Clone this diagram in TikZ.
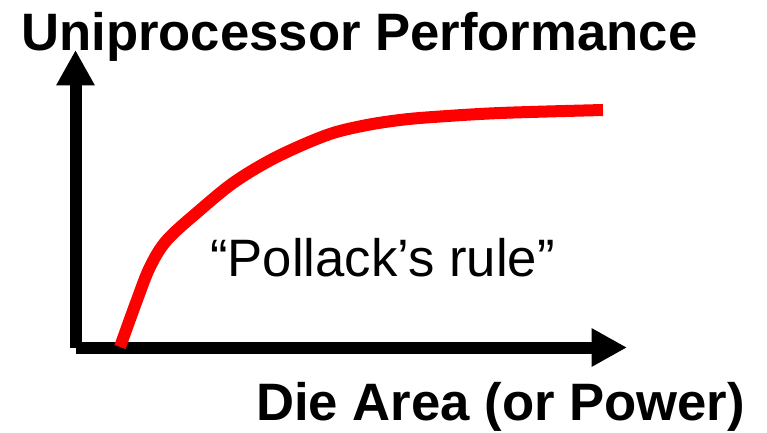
\documentclass[tikz,border=0pt]{standalone}
\usepackage{fontspec}
\setmainfont{Liberation Sans}
\usetikzlibrary{arrows.meta, positioning}

\begin{document}
\begin{tikzpicture}[x=0.75pt, y=-0.75pt,
    axis/.style={line width=9pt, -{Triangle[length=26.5pt, width=27pt]}},
    perfcurve/.style={line width=9pt, red},
    plainlabel/.style={inner sep=0pt, anchor=base west, font=\fontsize{39.5pt}{47pt}\selectfont},
    boldlabel/.style={inner sep=0pt, anchor=base west, font=\fontsize{39.5pt}{47pt}\selectfont\bfseries}]
  \useasboundingbox (0,0) rectangle (767,432);

  % axes
  \coordinate (origin) at (75.5,347.5);
  \coordinate (ytip) at (75.5,50);
  \coordinate (xtip) at (627,347.5);
  \draw[axis] (origin) -- (ytip);
  \draw[axis] (origin) -- (xtip);

  % performance curve
  \draw[perfcurve] plot[smooth, tension=0.55] coordinates {(120,347) (137,300) (150,267) (167,240) (200,210) (233,183) (267,162) (300,146) (333,133) (367,125) (400,120) (433,117) (500,113) (603,110)};

  % labels
  \node[boldlabel] (ylabel) at (21,50) {Uniprocessor Performance};
  \node[plainlabel] (rule) at (210,276) {“Pollack’s rule”};
  \node[boldlabel] (xlabel) at (256,420) {Die Area (or Power)};
\end{tikzpicture}
\end{document}
